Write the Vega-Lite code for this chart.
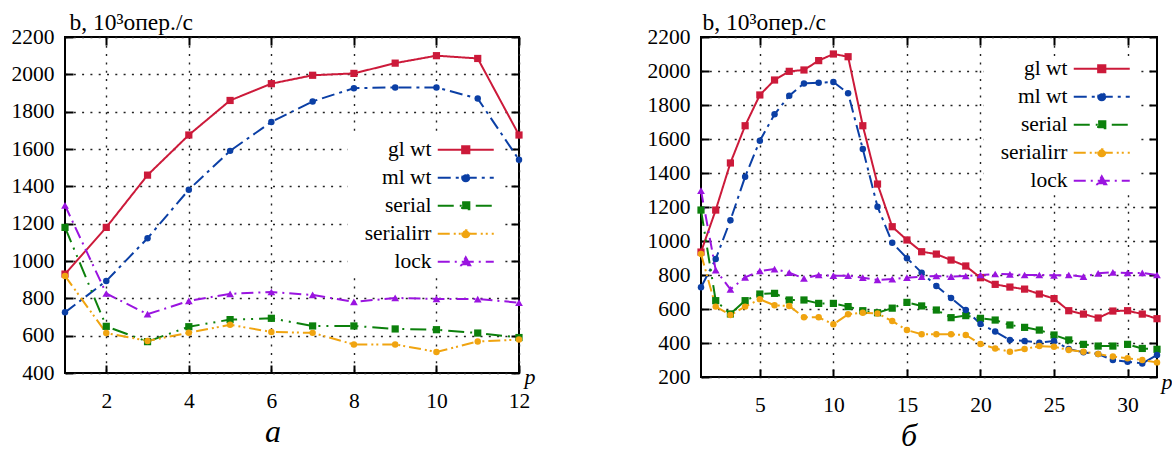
{
  "$schema": "https://vega.github.io/schema/vega-lite/v6.json",
  "padding": {"left": 10, "top": 9, "right": 0, "bottom": 0},
  "background": "white",
  "config": {
    "view": {"stroke": "black", "strokeWidth": 2},
    "font": "Liberation Serif",
    "concat": {"spacing": 110},
    "axis": {
      "labelFont": "Liberation Serif", "labelFontSize": 21.5, "labelColor": "black",
      "tickColor": "black", "tickWidth": 2, "tickSize": -8, "domain": false,
      "gridColor": "#222", "gridDash": [2, 6.3], "gridWidth": 1.4, "gridOpacity": 1,
      "titleFont": "Liberation Serif", "titleFontWeight": "normal", "titleFontSize": 21.5, "titleColor": "black",
      "labelFlush": false, "labelOverlap": false
    },
    "axisX": {"labelPadding": 25},
    "axisY": {"labelPadding": 19},
    "title": {"font": "Liberation Serif", "fontSize": 32, "fontStyle": "italic", "fontWeight": "normal", "color": "black"}
  },
  "datasets": {
    "left": [
      {"p":1,"s":"gl wt","b":930},{"p":2,"s":"gl wt","b":1180},{"p":3,"s":"gl wt","b":1460},{"p":4,"s":"gl wt","b":1675},{"p":5,"s":"gl wt","b":1860},{"p":6,"s":"gl wt","b":1950},{"p":7,"s":"gl wt","b":1995},{"p":8,"s":"gl wt","b":2005},{"p":9,"s":"gl wt","b":2060},{"p":10,"s":"gl wt","b":2100},{"p":11,"s":"gl wt","b":2085},{"p":12,"s":"gl wt","b":1675},
      {"p":1,"s":"ml wt","b":725},{"p":2,"s":"ml wt","b":893},{"p":3,"s":"ml wt","b":1122},{"p":4,"s":"ml wt","b":1382},{"p":5,"s":"ml wt","b":1590},{"p":6,"s":"ml wt","b":1745},{"p":7,"s":"ml wt","b":1855},{"p":8,"s":"ml wt","b":1926},{"p":9,"s":"ml wt","b":1930},{"p":10,"s":"ml wt","b":1930},{"p":11,"s":"ml wt","b":1870},{"p":12,"s":"ml wt","b":1542},
      {"p":1,"s":"serial","b":1180},{"p":2,"s":"serial","b":650},{"p":3,"s":"serial","b":568},{"p":4,"s":"serial","b":648},{"p":5,"s":"serial","b":686},{"p":6,"s":"serial","b":693},{"p":7,"s":"serial","b":652},{"p":8,"s":"serial","b":652},{"p":9,"s":"serial","b":636},{"p":10,"s":"serial","b":632},{"p":11,"s":"serial","b":614},{"p":12,"s":"serial","b":590},
      {"p":1,"s":"serialirr","b":920},{"p":2,"s":"serialirr","b":614},{"p":3,"s":"serialirr","b":572},{"p":4,"s":"serialirr","b":616},{"p":5,"s":"serialirr","b":658},{"p":6,"s":"serialirr","b":620},{"p":7,"s":"serialirr","b":615},{"p":8,"s":"serialirr","b":553},{"p":9,"s":"serialirr","b":553},{"p":10,"s":"serialirr","b":513},{"p":11,"s":"serialirr","b":569},{"p":12,"s":"serialirr","b":579},
      {"p":1,"s":"lock","b":1298},{"p":2,"s":"lock","b":826},{"p":3,"s":"lock","b":715},{"p":4,"s":"lock","b":786},{"p":5,"s":"lock","b":824},{"p":6,"s":"lock","b":834},{"p":7,"s":"lock","b":818},{"p":8,"s":"lock","b":781},{"p":9,"s":"lock","b":802},{"p":10,"s":"lock","b":797},{"p":11,"s":"lock","b":796},{"p":12,"s":"lock","b":777}
    ],
    "right": [
      {"p":1,"s":"gl wt","b":935},{"p":2,"s":"gl wt","b":1182},{"p":3,"s":"gl wt","b":1459},{"p":4,"s":"gl wt","b":1678},{"p":5,"s":"gl wt","b":1859},{"p":6,"s":"gl wt","b":1947},{"p":7,"s":"gl wt","b":1998},{"p":8,"s":"gl wt","b":2006},{"p":9,"s":"gl wt","b":2061},{"p":10,"s":"gl wt","b":2100},{"p":11,"s":"gl wt","b":2084},{"p":12,"s":"gl wt","b":1678},{"p":13,"s":"gl wt","b":1335},{"p":14,"s":"gl wt","b":1084},{"p":15,"s":"gl wt","b":1006},{"p":16,"s":"gl wt","b":937},{"p":17,"s":"gl wt","b":923},{"p":18,"s":"gl wt","b":888},{"p":19,"s":"gl wt","b":853},{"p":20,"s":"gl wt","b":784},{"p":21,"s":"gl wt","b":745},{"p":22,"s":"gl wt","b":729},{"p":23,"s":"gl wt","b":717},{"p":24,"s":"gl wt","b":688},{"p":25,"s":"gl wt","b":661},{"p":26,"s":"gl wt","b":590},{"p":27,"s":"gl wt","b":570},{"p":28,"s":"gl wt","b":547},{"p":29,"s":"gl wt","b":588},{"p":30,"s":"gl wt","b":590},{"p":31,"s":"gl wt","b":570},{"p":32,"s":"gl wt","b":543},
      {"p":1,"s":"ml wt","b":728},{"p":2,"s":"ml wt","b":894},{"p":3,"s":"ml wt","b":1122},{"p":4,"s":"ml wt","b":1378},{"p":5,"s":"ml wt","b":1590},{"p":6,"s":"ml wt","b":1745},{"p":7,"s":"ml wt","b":1855},{"p":8,"s":"ml wt","b":1927},{"p":9,"s":"ml wt","b":1931},{"p":10,"s":"ml wt","b":1935},{"p":11,"s":"ml wt","b":1869},{"p":12,"s":"ml wt","b":1541},{"p":13,"s":"ml wt","b":1202},{"p":14,"s":"ml wt","b":990},{"p":15,"s":"ml wt","b":899},{"p":16,"s":"ml wt","b":814},{"p":17,"s":"ml wt","b":735},{"p":18,"s":"ml wt","b":665},{"p":19,"s":"ml wt","b":594},{"p":20,"s":"ml wt","b":512},{"p":21,"s":"ml wt","b":467},{"p":22,"s":"ml wt","b":418},{"p":23,"s":"ml wt","b":412},{"p":24,"s":"ml wt","b":402},{"p":25,"s":"ml wt","b":412},{"p":26,"s":"ml wt","b":365},{"p":27,"s":"ml wt","b":345},{"p":28,"s":"ml wt","b":335},{"p":29,"s":"ml wt","b":300},{"p":30,"s":"ml wt","b":290},{"p":31,"s":"ml wt","b":280},{"p":32,"s":"ml wt","b":329},
      {"p":1,"s":"serial","b":1182},{"p":2,"s":"serial","b":649},{"p":3,"s":"serial","b":571},{"p":4,"s":"serial","b":649},{"p":5,"s":"serial","b":688},{"p":6,"s":"serial","b":692},{"p":7,"s":"serial","b":653},{"p":8,"s":"serial","b":653},{"p":9,"s":"serial","b":633},{"p":10,"s":"serial","b":633},{"p":11,"s":"serial","b":614},{"p":12,"s":"serial","b":590},{"p":13,"s":"serial","b":578},{"p":14,"s":"serial","b":605},{"p":15,"s":"serial","b":639},{"p":16,"s":"serial","b":618},{"p":17,"s":"serial","b":594},{"p":18,"s":"serial","b":549},{"p":19,"s":"serial","b":561},{"p":20,"s":"serial","b":545},{"p":21,"s":"serial","b":535},{"p":22,"s":"serial","b":506},{"p":23,"s":"serial","b":492},{"p":24,"s":"serial","b":476},{"p":25,"s":"serial","b":447},{"p":26,"s":"serial","b":418},{"p":27,"s":"serial","b":392},{"p":28,"s":"serial","b":382},{"p":29,"s":"serial","b":382},{"p":30,"s":"serial","b":392},{"p":31,"s":"serial","b":368},{"p":32,"s":"serial","b":363},
      {"p":1,"s":"serialirr","b":924},{"p":2,"s":"serialirr","b":614},{"p":3,"s":"serialirr","b":565},{"p":4,"s":"serialirr","b":614},{"p":5,"s":"serialirr","b":657},{"p":6,"s":"serialirr","b":622},{"p":7,"s":"serialirr","b":618},{"p":8,"s":"serialirr","b":551},{"p":9,"s":"serialirr","b":551},{"p":10,"s":"serialirr","b":510},{"p":11,"s":"serialirr","b":569},{"p":12,"s":"serialirr","b":578},{"p":13,"s":"serialirr","b":574},{"p":14,"s":"serialirr","b":529},{"p":15,"s":"serialirr","b":476},{"p":16,"s":"serialirr","b":451},{"p":17,"s":"serialirr","b":451},{"p":18,"s":"serialirr","b":451},{"p":19,"s":"serialirr","b":447},{"p":20,"s":"serialirr","b":394},{"p":21,"s":"serialirr","b":368},{"p":22,"s":"serialirr","b":349},{"p":23,"s":"serialirr","b":365},{"p":24,"s":"serialirr","b":382},{"p":25,"s":"serialirr","b":378},{"p":26,"s":"serialirr","b":359},{"p":27,"s":"serialirr","b":349},{"p":28,"s":"serialirr","b":335},{"p":29,"s":"serialirr","b":320},{"p":30,"s":"serialirr","b":310},{"p":31,"s":"serialirr","b":300},{"p":32,"s":"serialirr","b":286},
      {"p":1,"s":"lock","b":1296},{"p":2,"s":"lock","b":829},{"p":3,"s":"lock","b":716},{"p":4,"s":"lock","b":786},{"p":5,"s":"lock","b":824},{"p":6,"s":"lock","b":835},{"p":7,"s":"lock","b":814},{"p":8,"s":"lock","b":780},{"p":9,"s":"lock","b":800},{"p":10,"s":"lock","b":796},{"p":11,"s":"lock","b":796},{"p":12,"s":"lock","b":784},{"p":13,"s":"lock","b":771},{"p":14,"s":"lock","b":776},{"p":15,"s":"lock","b":784},{"p":16,"s":"lock","b":790},{"p":17,"s":"lock","b":794},{"p":18,"s":"lock","b":790},{"p":19,"s":"lock","b":794},{"p":20,"s":"lock","b":800},{"p":21,"s":"lock","b":806},{"p":22,"s":"lock","b":804},{"p":23,"s":"lock","b":800},{"p":24,"s":"lock","b":800},{"p":25,"s":"lock","b":798},{"p":26,"s":"lock","b":800},{"p":27,"s":"lock","b":790},{"p":28,"s":"lock","b":810},{"p":29,"s":"lock","b":816},{"p":30,"s":"lock","b":812},{"p":31,"s":"lock","b":812},{"p":32,"s":"lock","b":800}
    ]
  },
  "hconcat": [
    {
      "width": 454, "height": 336,
      "data": {"name": "left"},
      "title": {"text": "а", "orient": "bottom", "offset": 5, "dx": -19},
      "layer": [
        {
          "mark": {"type": "line", "strokeWidth": 2},
          "encoding": {
            "x": {"field": "p", "type": "quantitative", "scale": {"domain": [1, 12], "nice": false, "zero": false},
                  "axis": {"orient": "bottom", "values": [2, 4, 6, 8, 10, 12], "format": "d", "grid": true, "labelFont": "Liberation Serif", "labelFontSize": 21.5, "labelColor": "black", "labelPadding": 25,
                           "title": "p", "titleFont": "Liberation Serif", "titleFontSize": 22, "titleFontWeight": "normal", "titleColor": "black", "titleX": 459, "titleY": 10, "titleAlign": "left", "titleBaseline": "alphabetic", "titleFontStyle": "italic", "titleAnchor": "start"}},
            "y": {"field": "b", "type": "quantitative", "scale": {"domain": [400, 2200], "nice": false, "zero": false},
                  "axis": {"orient": "left", "values": [400, 600, 800, 1000, 1200, 1400, 1600, 1800, 2000, 2200], "format": "d", "grid": true, "labelFont": "Liberation Serif", "labelFontSize": 21.5, "labelColor": "black", "labelPadding": 19,
                           "title": "b, 10³опер./с", "titleFont": "Liberation Serif", "titleFontSize": 23.5, "titleFontWeight": "normal", "titleColor": "black", "titleAngle": 0, "titleX": 4, "titleY": -8, "titleAlign": "left", "titleBaseline": "alphabetic", "titleAnchor": "start"}},
            "color": {"field": "s", "type": "nominal",
                      "scale": {"domain": ["gl wt", "ml wt", "serial", "serialirr", "lock"], "range": ["#cc1a3a", "#0b3fa5", "#0c800c", "#f0a410", "#9a14e0"]},
                      "legend": {
                        "orient": "none", "legendX": 283, "legendY": 100, "title": null,
                        "labelAlign": "right", "labelOffset": -45, "symbolOffset": 105,
                        "labelFont": "Liberation Serif", "labelFontSize": 21.5, "labelColor": "black", "labelLimit": 300,
                        "symbolSize": 64, "symbolStrokeWidth": 2, "rowPadding": 5, "padding": 2, "fillColor": "white", "symbolOpacity": 1,
                        "symbolType": {"expr": "datum.value==='gl wt'||datum.value==='serial'?'M-7,0H7M-0.9,-0.9H0.9V0.9H-0.9Z':datum.value==='lock'?'M-7,0H7M0,-1.1L1.1,0.85H-1.1Z':'M-7,0H7M0.9,0A0.9,0.9,0,1,1,-0.9,0A0.9,0.9,0,1,1,0.9,0Z'"},
                        "symbolFillColor": {"expr": "datum.value==='gl wt'?'#cc1a3a':datum.value==='ml wt'?'#0b3fa5':datum.value==='serial'?'#0c800c':datum.value==='serialirr'?'#f0a410':'#9a14e0'"},
                        "symbolStrokeColor": {"expr": "datum.value==='gl wt'?'#cc1a3a':datum.value==='ml wt'?'#0b3fa5':datum.value==='serial'?'#0c800c':datum.value==='serialirr'?'#f0a410':'#9a14e0'"},
                        "symbolDash": {"expr": "datum.value==='gl wt'?[1,0]:datum.value==='ml wt'?[19,22,15,10]:datum.value==='serial'?[20,21,2,11,2,20]:datum.value==='serialirr'?[12,5,2,2,2,19,2,1,2,3,6,10]:[15,3,2,22,2,3,10,5]"}
                      }},
            "strokeDash": {"field": "s", "type": "nominal",
                           "scale": {"domain": ["gl wt", "ml wt", "serial", "serialirr", "lock"], "range": [[1, 0], [13, 5, 3, 5], [16, 6, 2, 6, 2, 6], [12, 4, 2, 3, 2, 4], [12, 5, 2, 5]]},
                           "legend": null}
          }
        },
        {
          "transform": [{"filter": {"field": "s", "oneOf": ["gl wt", "serial"]}}],
          "mark": {"type": "point", "shape": "square", "filled": true, "opacity": 1, "size": 52},
          "encoding": {
            "x": {"field": "p", "type": "quantitative", "axis": {"orient": "top", "values": [2, 4, 6, 8, 10, 12], "labels": false, "grid": false, "title": null}},
            "y": {"field": "b", "type": "quantitative", "axis": {"orient": "right", "values": [400, 600, 800, 1000, 1200, 1400, 1600, 1800, 2000, 2200], "labels": false, "grid": false, "title": null}},
            "color": {"field": "s", "type": "nominal", "legend": null}
          }
        },
        {
          "transform": [{"filter": {"field": "s", "oneOf": ["ml wt", "serialirr"]}}],
          "mark": {"type": "point", "shape": "circle", "filled": true, "opacity": 1, "size": 42},
          "encoding": {
            "x": {"field": "p", "type": "quantitative", "axis": null},
            "y": {"field": "b", "type": "quantitative", "axis": null},
            "color": {"field": "s", "type": "nominal", "legend": null}
          }
        },
        {
          "transform": [{"filter": {"field": "s", "oneOf": ["lock"]}}],
          "mark": {"type": "point", "shape": "triangle-up", "filled": true, "opacity": 1, "size": 60},
          "encoding": {
            "x": {"field": "p", "type": "quantitative", "axis": null},
            "y": {"field": "b", "type": "quantitative", "axis": null},
            "color": {"field": "s", "type": "nominal", "legend": null}
          }
        }
      ],
      "resolve": {"axis": {"x": "independent", "y": "independent"}}
    },
    {
      "width": 456, "height": 340,
      "data": {"name": "right"},
      "title": {"text": "б", "orient": "bottom", "offset": 5, "dx": -20},
      "layer": [
        {
          "mark": {"type": "line", "strokeWidth": 2},
          "encoding": {
            "x": {"field": "p", "type": "quantitative", "scale": {"domain": [1, 32], "nice": false, "zero": false},
                  "axis": {"orient": "bottom", "values": [5, 10, 15, 20, 25, 30], "format": "d", "grid": true, "labelFont": "Liberation Serif", "labelFontSize": 21.5, "labelColor": "black", "labelPadding": 25,
                           "title": "p", "titleFont": "Liberation Serif", "titleFontSize": 22, "titleFontWeight": "normal", "titleColor": "black", "titleX": 460, "titleY": 11, "titleAlign": "left", "titleBaseline": "alphabetic", "titleFontStyle": "italic", "titleAnchor": "start"}},
            "y": {"field": "b", "type": "quantitative", "scale": {"domain": [200, 2200], "nice": false, "zero": false},
                  "axis": {"orient": "left", "values": [200, 400, 600, 800, 1000, 1200, 1400, 1600, 1800, 2000, 2200], "format": "d", "grid": true, "labelFont": "Liberation Serif", "labelFontSize": 21.5, "labelColor": "black", "labelPadding": 19,
                           "title": "b, 10³опер./с", "titleFont": "Liberation Serif", "titleFontSize": 23.5, "titleFontWeight": "normal", "titleColor": "black", "titleAngle": 0, "titleX": 1, "titleY": -8, "titleAlign": "left", "titleBaseline": "alphabetic", "titleAnchor": "start"}},
            "color": {"field": "s", "type": "nominal",
                      "scale": {"domain": ["gl wt", "ml wt", "serial", "serialirr", "lock"], "range": ["#cc1a3a", "#0b3fa5", "#0c800c", "#f0a410", "#9a14e0"]},
                      "legend": {
                        "orient": "none", "legendX": 283, "legendY": 19, "title": null,
                        "labelAlign": "right", "labelOffset": -45, "symbolOffset": 105,
                        "labelFont": "Liberation Serif", "labelFontSize": 21.5, "labelColor": "black", "labelLimit": 300,
                        "symbolSize": 64, "symbolStrokeWidth": 2, "rowPadding": 5, "padding": 2, "fillColor": "white", "symbolOpacity": 1,
                        "symbolType": {"expr": "datum.value==='gl wt'||datum.value==='serial'?'M-7,0H7M-0.9,-0.9H0.9V0.9H-0.9Z':datum.value==='lock'?'M-7,0H7M0,-1.1L1.1,0.85H-1.1Z':'M-7,0H7M0.9,0A0.9,0.9,0,1,1,-0.9,0A0.9,0.9,0,1,1,0.9,0Z'"},
                        "symbolFillColor": {"expr": "datum.value==='gl wt'?'#cc1a3a':datum.value==='ml wt'?'#0b3fa5':datum.value==='serial'?'#0c800c':datum.value==='serialirr'?'#f0a410':'#9a14e0'"},
                        "symbolStrokeColor": {"expr": "datum.value==='gl wt'?'#cc1a3a':datum.value==='ml wt'?'#0b3fa5':datum.value==='serial'?'#0c800c':datum.value==='serialirr'?'#f0a410':'#9a14e0'"},
                        "symbolDash": {"expr": "datum.value==='gl wt'?[1,0]:datum.value==='ml wt'?[19,22,15,10]:datum.value==='serial'?[20,21,2,11,2,20]:datum.value==='serialirr'?[12,5,2,2,2,19,2,1,2,3,6,10]:[15,3,2,22,2,3,10,5]"}
                      }},
            "strokeDash": {"field": "s", "type": "nominal",
                           "scale": {"domain": ["gl wt", "ml wt", "serial", "serialirr", "lock"], "range": [[1, 0], [13, 5, 3, 5], [16, 6, 2, 6, 2, 6], [12, 4, 2, 3, 2, 4], [12, 5, 2, 5]]},
                           "legend": null}
          }
        },
        {
          "transform": [{"filter": {"field": "s", "oneOf": ["gl wt", "serial"]}}],
          "mark": {"type": "point", "shape": "square", "filled": true, "opacity": 1, "size": 52},
          "encoding": {
            "x": {"field": "p", "type": "quantitative", "axis": {"orient": "top", "values": [5, 10, 15, 20, 25, 30], "labels": false, "grid": false, "title": null}},
            "y": {"field": "b", "type": "quantitative", "axis": {"orient": "right", "values": [200, 400, 600, 800, 1000, 1200, 1400, 1600, 1800, 2000, 2200], "labels": false, "grid": false, "title": null}},
            "color": {"field": "s", "type": "nominal", "legend": null}
          }
        },
        {
          "transform": [{"filter": {"field": "s", "oneOf": ["ml wt", "serialirr"]}}],
          "mark": {"type": "point", "shape": "circle", "filled": true, "opacity": 1, "size": 42},
          "encoding": {
            "x": {"field": "p", "type": "quantitative", "axis": null},
            "y": {"field": "b", "type": "quantitative", "axis": null},
            "color": {"field": "s", "type": "nominal", "legend": null}
          }
        },
        {
          "transform": [{"filter": {"field": "s", "oneOf": ["lock"]}}],
          "mark": {"type": "point", "shape": "triangle-up", "filled": true, "opacity": 1, "size": 60},
          "encoding": {
            "x": {"field": "p", "type": "quantitative", "axis": null},
            "y": {"field": "b", "type": "quantitative", "axis": null},
            "color": {"field": "s", "type": "nominal", "legend": null}
          }
        }
      ],
      "resolve": {"axis": {"x": "independent", "y": "independent"}}
    }
  ],
  "resolve": {"scale": {"color": "independent", "strokeDash": "independent"}, "legend": {"color": "independent"}}
}
